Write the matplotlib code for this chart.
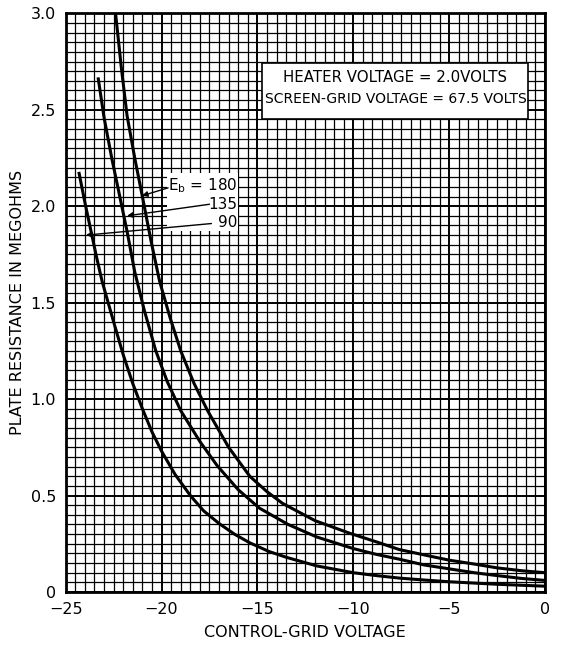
import matplotlib
matplotlib.use("Agg")
import matplotlib.pyplot as plt
import numpy as np
from matplotlib.patches import Rectangle

# curves: control-grid voltage vs plate resistance (megohms)
eg_180 = [-22.4, -22.1, -21.8, -21.4, -21.0, -20.55, -20.1, -19.55, -19.0, -18.3, -17.6, -16.5,
          -15.4, -14.5, -13.7, -12.0, -10.2, -8.8, -7.6, -6.2, -5.0, -3.7, -2.5, -1.2, 0.0]
rp_180 = [3.0, 2.72, 2.47, 2.25, 2.05, 1.82, 1.61, 1.42, 1.25, 1.08, 0.94, 0.75,
          0.60, 0.52, 0.46, 0.37, 0.305, 0.26, 0.22, 0.19, 0.165, 0.145, 0.125, 0.11, 0.10]

eg_135 = [-23.3, -23.0, -22.6, -22.2, -21.8, -21.4, -20.9, -20.3, -19.7, -19.0, -18.0, -17.1,
          -16.0, -14.9, -13.4, -11.9, -10.0, -8.8, -7.6, -6.3, -5.0, -3.7, -2.5, -1.2, 0.0]
rp_135 = [2.66, 2.46, 2.25, 2.06, 1.87, 1.66, 1.46, 1.25, 1.09, 0.94, 0.78, 0.655,
          0.53, 0.435, 0.35, 0.285, 0.225, 0.195, 0.17, 0.14, 0.12, 0.10, 0.085, 0.07, 0.06]

eg_90 = [-24.3, -24.0, -23.7, -23.4, -23.1, -22.5, -22.0, -21.5, -21.0, -20.5, -20.0, -19.3,
         -18.5, -17.8, -17.0, -16.2, -15.4, -14.4, -13.5, -11.9, -10.0, -8.8, -7.6, -6.3,
         -5.0, -2.5, 0.0]
rp_90 = [2.17, 2.02, 1.88, 1.74, 1.61, 1.40, 1.23, 1.08, 0.95, 0.83, 0.73, 0.61,
         0.50, 0.42, 0.355, 0.30, 0.255, 0.21, 0.18, 0.135, 0.10, 0.085, 0.072, 0.062,
         0.053, 0.04, 0.03]

x_ticks = [-25, -20, -15, -10, -5, 0]
x_labels = ["\u221225", "\u221220", "\u221215", "\u221210", "\u22125", "0"]
y_ticks = [0, 0.5, 1.0, 1.5, 2.0, 2.5, 3.0]
y_labels = ["0", "0.5", "1.0", "1.5", "2.0", "2.5", "3.0"]

fig = plt.figure(figsize=(5.63, 6.45), dpi=100)
ax = fig.add_axes([0.1167, 0.0822, 0.8513, 0.8972])
ax.set_xlim(-25, 0)
ax.set_ylim(0, 3.0)

# graph-paper grid
for v in np.arange(-25, 0.01, 0.5):
    lw = 1.4 if abs(v % 5) < 1e-6 else 0.9
    ax.axvline(v, color="black", lw=lw, zorder=1)
for r in np.arange(0, 3.001, 0.05):
    lw = 1.4 if abs((r / 0.5) - round(r / 0.5)) < 1e-6 else 0.9
    ax.axhline(r, color="black", lw=lw, zorder=1)

ax.plot(eg_180, rp_180, color="black", lw=2.2, zorder=3, solid_joinstyle="round")
ax.plot(eg_135, rp_135, color="black", lw=2.2, zorder=3, solid_joinstyle="round")
ax.plot(eg_90, rp_90, color="black", lw=2.2, zorder=3, solid_joinstyle="round")

# note box
ax.add_patch(Rectangle((-14.75, 2.45), 13.85, 0.29, facecolor="white",
                       edgecolor="black", lw=1.2, zorder=4))
ax.text(-7.8, 2.665, "HEATER VOLTAGE = 2.0VOLTS", ha="center", va="center",
        fontsize=10.8, zorder=5)
ax.text(-7.8, 2.555, "SCREEN-GRID VOLTAGE = 67.5 VOLTS", ha="center", va="center",
        fontsize=10, zorder=5)

# curve labels
ax.add_patch(Rectangle((-19.7, 1.87), 3.7, 0.30, facecolor="white",
                       edgecolor="none", zorder=4))
ax.text(-16.05, 2.105, r"E$_\mathregular{b}$ = 180", ha="right", va="center",
        fontsize=11, zorder=5)
ax.text(-16.05, 2.01, "135", ha="right", va="center", fontsize=11, zorder=5)
ax.text(-16.05, 1.915, "90", ha="right", va="center", fontsize=11, zorder=5)

arrows = [((-19.66, 2.095), (-21.02, 2.054)),
          ((-17.5, 2.01), (-21.8, 1.95)),
          ((-17.4, 1.91), (-23.94, 1.85))]
for start, end in arrows:
    ax.annotate("", xy=end, xytext=start, zorder=6,
                arrowprops=dict(arrowstyle="-|>", color="black", lw=1.0,
                                mutation_scale=8, shrinkA=0, shrinkB=0))

ax.set_xticks(x_ticks)
ax.set_xticklabels(x_labels, fontsize=11.5)
ax.set_yticks(y_ticks)
ax.set_yticklabels(y_labels, fontsize=11.5)
ax.tick_params(length=0, pad=7)
for s in ax.spines.values():
    s.set_linewidth(2.0)
    s.set_zorder(7)

ax.set_xlabel("CONTROL-GRID VOLTAGE", fontsize=11.5, labelpad=6)
ax.set_ylabel("PLATE RESISTANCE IN MEGOHMS", fontsize=11.5, labelpad=4)

fig.savefig("out.png", dpi=100)
